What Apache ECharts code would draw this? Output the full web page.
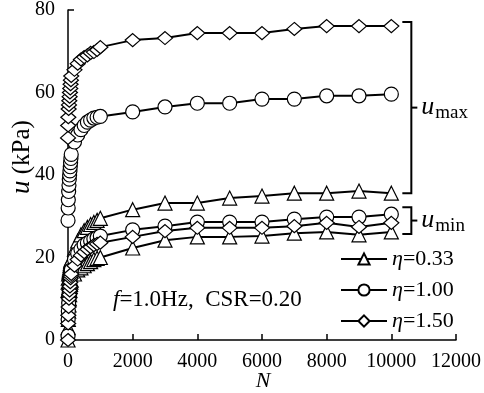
<!DOCTYPE html>
<html>
<head>
<meta charset="utf-8">
<script src="https://cdn.jsdelivr.net/npm/echarts@6/dist/echarts.min.js"></script>
<style>
    html, body { margin: 0; padding: 0; background: #fff; }
    #main { width: 484px; height: 393px; }
</style>
</head>
<body>
<div id="main"></div>
<script>
    // loading cycles N
    const cycles = [1, 5, 10, 20, 30, 40, 50, 60, 70, 80, 90, 100, 200, 300, 400, 500, 600, 700, 800, 900, 1000,
        2000, 3000, 4000, 5000, 6000, 7000, 8000, 9000, 10000];

    // pore pressure u (kPa), upper envelope (u_max)
    const triMax = [12, 14, 15, 16, 16.5, 17, 17.5, 18, 18.5, 19, 19.3, 19.6, 22, 24, 25.5, 26.5, 27.3, 28, 28.5, 29, 29.5,
        31.6, 33.2, 33.2, 34.4, 34.9, 35.6, 35.6, 36.1, 35.6];
    const cirMax = [29, 32, 34, 36, 37.5, 39, 40, 41, 42, 43, 44, 45, 48, 49.7, 51, 52, 52.8, 53.3, 53.8, 54, 54.2,
        55.3, 56.5, 57.4, 57.4, 58.4, 58.4, 59.2, 59.2, 59.6];
    const diaMax = [49, 52, 54, 56, 57, 58, 59, 60, 61, 62, 63, 64, 65.5, 67, 68, 68.6, 69, 69.6, 69.8, 70.3, 71,
        72.7, 73.2, 74.4, 74.4, 74.4, 75.4, 76.1, 76.1, 76.1];

    // lower envelope (u_min)
    const triMin = [0, 3, 5, 7, 8.5, 10, 11, 12, 13, 13.5, 14, 14.5, 16, 17, 17.5, 18, 18.5, 19, 19.5, 19.8, 20,
        22.3, 24.2, 25.0, 25.0, 25.2, 25.9, 26.2, 25.5, 26.2];
    const cirMin = [1, 5, 7, 9, 11, 12, 13, 14, 15, 16, 16.5, 17, 19.5, 21, 22, 23, 23.5, 24, 24.5, 24.8, 25.2,
        26.7, 27.6, 28.6, 28.6, 28.6, 29.3, 29.8, 29.8, 30.5];
    const diaMin = [0, 4, 6, 8, 10, 11, 12, 13, 14, 15, 15.5, 16, 18, 19.5, 20.5, 21.3, 22, 22.5, 23, 23.3, 23.6,
        25, 26.4, 27.2, 27.2, 27.2, 27.6, 28.4, 27.4, 28.4];

    const legendNames = ['η=0.33', 'η=1.00', 'η=1.50'];
    const xTicks = [0, 12000, 2000];
    const yTicks = [0, 80, 20];

    const FONT = '"Liberation Serif", "Times New Roman", serif';

    function pairs(ys) {
        return cycles.map(function (n, i) { return [n, ys[i]]; });
    }

    function makeSeries(name, symbol, size, ys) {
        return {
            name: name,
            type: 'line',
            data: pairs(ys),
            symbol: symbol,
            symbolSize: size,
            showAllSymbol: true,
            lineStyle: { color: '#000', width: 2 },
            itemStyle: { color: '#fff', borderColor: '#000', borderWidth: 1.2 },
            emphasis: { disabled: true }
        };
    }

    let myChart = echarts.init(document.getElementById('main'));

    let option = {
        animation: false,
        backgroundColor: '#fff',
        grid: { left: 68, right: 27, top: 10, bottom: 53 },
        xAxis: {
            type: 'value',
            min: xTicks[0], max: xTicks[1], interval: xTicks[2],
            splitLine: { show: false },
            axisLine: { lineStyle: { color: '#000', width: 1.5 } },
            axisTick: { inside: true, length: 6, lineStyle: { color: '#000', width: 1.5 } },
            axisLabel: {
                color: '#000', fontFamily: FONT, fontSize: 20, margin: 12,
                formatter: function (v) { return String(v); }
            }
        },
        yAxis: {
            type: 'value',
            min: yTicks[0], max: yTicks[1], interval: yTicks[2],
            splitLine: { show: false },
            axisLine: { show: true, lineStyle: { color: '#000', width: 1.5 } },
            axisTick: { show: true, inside: true, length: 6, lineStyle: { color: '#000', width: 1.5 } },
            axisLabel: { color: '#000', fontFamily: FONT, fontSize: 20, margin: 13 }
        },
        legend: {
            data: legendNames,
            orient: 'vertical',
            left: 335,
            top: 243,
            itemWidth: 46,
            itemHeight: 14,
            itemGap: 9,
            selectedMode: false,
            formatter: function (n) { return '{i|η}{t|' + n.slice(1) + '}'; },
            textStyle: {
                color: '#000', fontFamily: FONT, fontSize: 22,
                rich: {
                    i: { fontFamily: FONT, fontSize: 22, fontStyle: 'italic', color: '#000' },
                    t: { fontFamily: FONT, fontSize: 22, color: '#000' }
                }
            }
        },
        series: [
            makeSeries(legendNames[0], 'triangle', 14, triMax),
            makeSeries(legendNames[1], 'circle', 14, cirMax),
            makeSeries(legendNames[2], 'diamond', [15, 13], diaMax),
            makeSeries(legendNames[0], 'triangle', 14, triMin),
            makeSeries(legendNames[1], 'circle', 14, cirMin),
            makeSeries(legendNames[2], 'diamond', [15, 13], diaMin)
        ]
    };

    myChart.setOption(option);

    // brackets for u_max / u_min, placed from the data ends
    let last = cycles.length - 1;
    let px = function (x, y) { return myChart.convertToPixel({ gridIndex: 0 }, [x, y]); };
    let x0 = px(cycles[last], 0)[0] + 11;
    let x1 = x0 + 9;

    function bracket(topY, botY, label) {
        let mid = (topY + botY) / 2;
        return [
            {
                type: 'polyline',
                shape: { points: [[x0, topY], [x1, topY], [x1, botY], [x0, botY]] },
                style: { stroke: '#000', lineWidth: 2, fill: null }
            },
            {
                type: 'line',
                shape: { x1: x1, y1: mid, x2: x1 + 6, y2: mid },
                style: { stroke: '#000', lineWidth: 2 }
            },
            {
                type: 'text', x: x1 + 10, y: mid,
                style: { text: 'u', font: 'italic 26px ' + FONT, fill: '#000', verticalAlign: 'middle' }
            },
            {
                type: 'text', x: x1 + 24, y: mid + 5,
                style: { text: label, font: '19px ' + FONT, fill: '#000', verticalAlign: 'middle' }
            }
        ];
    }

    let maxTop = px(0, diaMax[last])[1] - 4;
    let maxBot = px(0, triMax[last])[1];
    let minTop = px(0, cirMin[last])[1] - 7;
    let minBot = px(0, triMin[last])[1] + 2;

    let graphics = [].concat(
        bracket(maxTop, maxBot, 'max'),
        bracket(minTop, minBot, 'min'),
        [
            {
                type: 'text', x: 22, y: 157, rotation: Math.PI / 2,
                style: {
                    text: '{i|u}{t| (kPa)}', align: 'center', verticalAlign: 'middle',
                    rich: {
                        i: { fontFamily: FONT, fontSize: 27, fontStyle: 'italic', fill: '#000' },
                        t: { fontFamily: FONT, fontSize: 25, fill: '#000' }
                    }
                }
            },
            {
                type: 'text', x: 263, y: 381,
                style: { text: 'N', font: 'italic 22px ' + FONT, fill: '#000', align: 'center', verticalAlign: 'middle' }
            },
            {
                type: 'text', x: 113, y: 300,
                style: {
                    text: '{i|f}{t|=1.0Hz,  CSR=0.20}', verticalAlign: 'middle',
                    rich: {
                        i: { fontFamily: FONT, fontSize: 23, fontStyle: 'italic', fill: '#000' },
                        t: { fontFamily: FONT, fontSize: 23, fill: '#000' }
                    }
                }
            }
        ]
    );

    myChart.setOption({ graphic: graphics });

    window.addEventListener('resize', function () {
        myChart.resize();
    });
</script>
</body>
</html>
